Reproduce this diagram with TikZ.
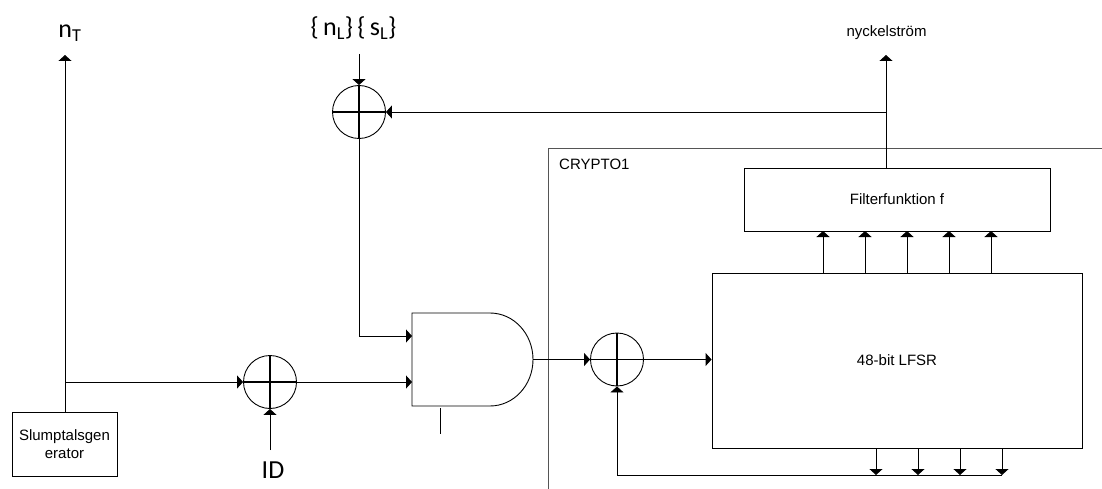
\documentclass[tikz,border=0pt]{standalone}
\usepackage{fontspec}
\setmainfont{Liberation Sans}
\newfontfamily\labelfont{Carlito}
\usetikzlibrary{arrows.meta,positioning,calc}
\definecolor{FrameGray}{HTML}{555555}
\tikzset{
  >={Triangle[length=6pt,width=13pt]},
  block/.style={rectangle, draw=black, line width=0.9pt, align=center, inner sep=0pt, font=\fontsize{15}{18}\selectfont},
  xorgate/.style={circle, draw=black, line width=0.9pt, minimum size=53pt, inner sep=0pt,
    path picture={
      \draw[line width=1.1pt] (path picture bounding box.north) -- (path picture bounding box.south);
      \draw[line width=1.1pt] (path picture bounding box.west) -- (path picture bounding box.east);
    }},
  biglabel/.style={font=\labelfont\fontsize{26}{30}\selectfont, inner sep=0pt},
  smalllabel/.style={font=\fontsize{15}{18}\selectfont, inner sep=0pt},
  flow/.style={draw, ->, line width=0.9pt},
  plain/.style={draw, line width=0.9pt}
}

\begin{document}
\begin{tikzpicture}[x=1pt, y=-1pt]
\useasboundingbox (0,0) rectangle (1102,489);

% left side
\node[block, minimum width=105pt, minimum height=64pt] (slump) at (64.5,444) {Slumptalsgen\\erator};
\node[biglabel] (nt) at (70,33) {n\textsubscript{T}};
\node[biglabel] (id) at (273,470) {ID};
\coordinate (ntend) at (65,55);
\coordinate (split) at (65,382);
\coordinate (idstart) at (270,450);
\node[xorgate] (xorid) at (270,382) {};

% top
\node[xorgate] (xorkey) at (359,112) {};
\node[biglabel] (nonce) at (353.5,28) {\{\,n\textsubscript{L}\}\,\{\,s\textsubscript{L}\}};
\coordinate (noncestart) at (359,54);

% gate
\coordinate (gatetop) at (412,313);
\coordinate (gatein1) at (412,336);
\coordinate (gatein2) at (412,382);
\coordinate (gateout) at (533,359.5);
\coordinate (stubtop) at (440,408);
\coordinate (stubend) at (440,434);
\draw[plain] (gatetop) -- (490,313) arc[start angle=-90, end angle=90, x radius=43, y radius=46.5] -- (412,406) -- cycle;

% crypto frame
\coordinate (framea) at (548,489);
\coordinate (frameb) at (548,149);
\coordinate (framec) at (1102,149);
\draw[draw=FrameGray, line width=1pt] (framea) -- (frameb) -- (framec);
\node[smalllabel, anchor=west] (crypto) at (559,164) {CRYPTO1};

\node[xorgate] (xorin) at (617,359.5) {};
\node[block, minimum width=306pt, minimum height=63pt] (filter) at (897,199.5) {Filterfunktion f};
\node[block, minimum width=370pt, minimum height=175pt] (lfsr) at (897,360.5) {48-bit LFSR};
\node[smalllabel] (stream) at (886.5,33) {nyckelström};
\coordinate (streamend) at (886,55);
\coordinate (branch) at (886,112);
\coordinate (backcorner) at (617,475);

% connectors
\draw[flow] (slump.north -| split) -- (ntend);
\draw[flow] (split) -- (xorid.west);
\draw[flow] (idstart) -- (xorid.south);
\draw[flow] (xorid.east) -- (gatein2);
\draw[flow] (noncestart) -- (xorkey.north);
\draw[flow] (xorkey.south) |- (gatein1);
\draw[flow] (filter.north -| branch) -- (streamend);
\draw[flow] (branch) -- (xorkey.east);
\draw[plain] (stubtop) -- (stubend);
\draw[flow] (gateout) -- (xorin.west);
\draw[flow] (xorin.east) -- (lfsr.west |- xorin);

% taps up
\foreach \tapx in {823,865,907,949,991}
  \draw[flow] (\tapx,273) -- (\tapx,231);

% taps down
\foreach \tapx in {876,918,960,1002}
  \draw[flow] (\tapx,448) -- (\tapx,475);
\draw[plain] (1002,475) -- (backcorner);
\draw[flow] (backcorner) -- (xorin.south);

\end{tikzpicture}
\end{document}
